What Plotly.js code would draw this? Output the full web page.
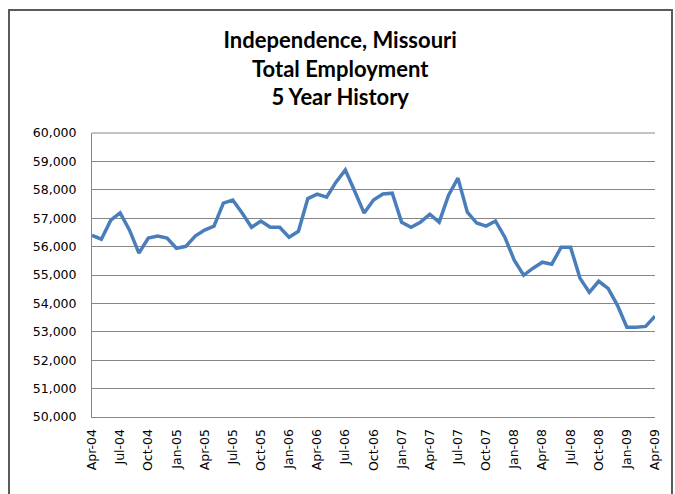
<!DOCTYPE html>
<html>
<head>
<meta charset="utf-8">
<script src="https://cdn.plot.ly/plotly-3.0.1.min.js"></script>
<style>
html,body{margin:0;padding:0;background:#fff;}
#chart{width:675px;height:494px;}
</style>
</head>
<body>
<div id="chart"></div>
<script>
// Monthly categories Apr-04 .. Apr-09
const months = ["Apr-04","May-04","Jun-04","Jul-04","Aug-04","Sep-04","Oct-04","Nov-04","Dec-04",
"Jan-05","Feb-05","Mar-05","Apr-05","May-05","Jun-05","Jul-05","Aug-05","Sep-05","Oct-05","Nov-05","Dec-05",
"Jan-06","Feb-06","Mar-06","Apr-06","May-06","Jun-06","Jul-06","Aug-06","Sep-06","Oct-06","Nov-06","Dec-06",
"Jan-07","Feb-07","Mar-07","Apr-07","May-07","Jun-07","Jul-07","Aug-07","Sep-07","Oct-07","Nov-07","Dec-07",
"Jan-08","Feb-08","Mar-08","Apr-08","May-08","Jun-08","Jul-08","Aug-08","Sep-08","Oct-08","Nov-08","Dec-08",
"Jan-09","Feb-09","Mar-09","Apr-09"];

const employment = [56400,56260,56930,57190,56580,55770,56300,56370,56300,
55940,56010,56370,56580,56720,57530,57640,57180,56680,56900,56680,56680,
56330,56540,57690,57850,57740,58270,58700,57950,57180,57640,57850,57880,
56860,56680,56860,57140,56860,57810,58410,57210,56830,56720,56900,56330,
55520,54990,55240,55450,55380,55980,55980,54890,54390,54780,54530,53930,
53160,53160,53190,53550];

const tickLabels = ["Apr-04","Jul-04","Oct-04","Jan-05","Apr-05","Jul-05","Oct-05","Jan-06","Apr-06","Jul-06",
"Oct-06","Jan-07","Apr-07","Jul-07","Oct-07","Jan-08","Apr-08","Jul-08","Oct-08","Jan-09","Apr-09"];

const yTicks = [50000,51000,52000,53000,54000,55000,56000,57000,58000,59000,60000];

const trace = {
  x: months,
  y: employment,
  type: 'scatter',
  mode: 'lines',
  line: {color: '#4a7ebb', width: 3.5},
  hoverinfo: 'x+y'
};

const axisFont = {family: 'DejaVu Sans, sans-serif', size: 12.5, color: '#000'};

const layout = {
  width: 675,
  height: 494,
  margin: {l: 92, r: 20, t: 133, b: 77},
  paper_bgcolor: '#fff',
  plot_bgcolor: '#fff',
  showlegend: false,
  title: {
    text: '<b>Independence, Missouri<br>Total Employment<br>5 Year History</b>',
    x: 0.504, xanchor: 'center', xref: 'container',
    y: 0.9025, yanchor: 'top', yref: 'container',
    font: {family: 'Lato, sans-serif', size: 22, color: '#000'}
  },
  xaxis: {
    type: 'category',
    categoryorder: 'array',
    categoryarray: months,
    tickmode: 'array',
    tickvals: tickLabels,
    ticktext: tickLabels,
    tickangle: -90,
    tickfont: axisFont,
    ticklabelstandoff: 6,
    showgrid: false,
    showline: true,
    linecolor: '#868686',
    linewidth: 1,
    ticks: '',
    range: [0, months.length - 1],
    zeroline: false
  },
  yaxis: {
    range: [50000, 60000],
    tickmode: 'array',
    tickvals: yTicks,
    ticktext: yTicks.map(v => v.toLocaleString('en-US')),
    tickfont: axisFont,
    ticklabelstandoff: 12,
    showgrid: true,
    gridcolor: '#868686',
    gridwidth: 1,
    showline: true,
    linecolor: '#868686',
    linewidth: 1,
    ticks: '',
    zeroline: false,
    automargin: false
  },
  shapes: [
    {type: 'line', xref: 'paper', yref: 'paper', x0: 0, x1: 1, y0: 1, y1: 1,
     line: {color: '#868686', width: 1}}
  ]
};

// outer frame drawn in pixel terms relative to paper
const pw = 675 - 92 - 20, ph = 494 - 133 - 77;
function px(x){ return (x - 92) / pw; }
function py(y){ return (494 - 77 - y) / ph; }
layout.shapes.push({
  type: 'path', xref: 'paper', yref: 'paper',
  path: `M ${px(9)} ${py(500)} L ${px(9)} ${py(10)} L ${px(672)} ${py(10)} L ${px(672)} ${py(500)}`,
  line: {color: '#5a5a5a', width: 2}, layer: 'above'
});

Plotly.newPlot('chart', [trace], layout, {displayModeBar: false, staticPlot: true});
</script>
</body>
</html>
